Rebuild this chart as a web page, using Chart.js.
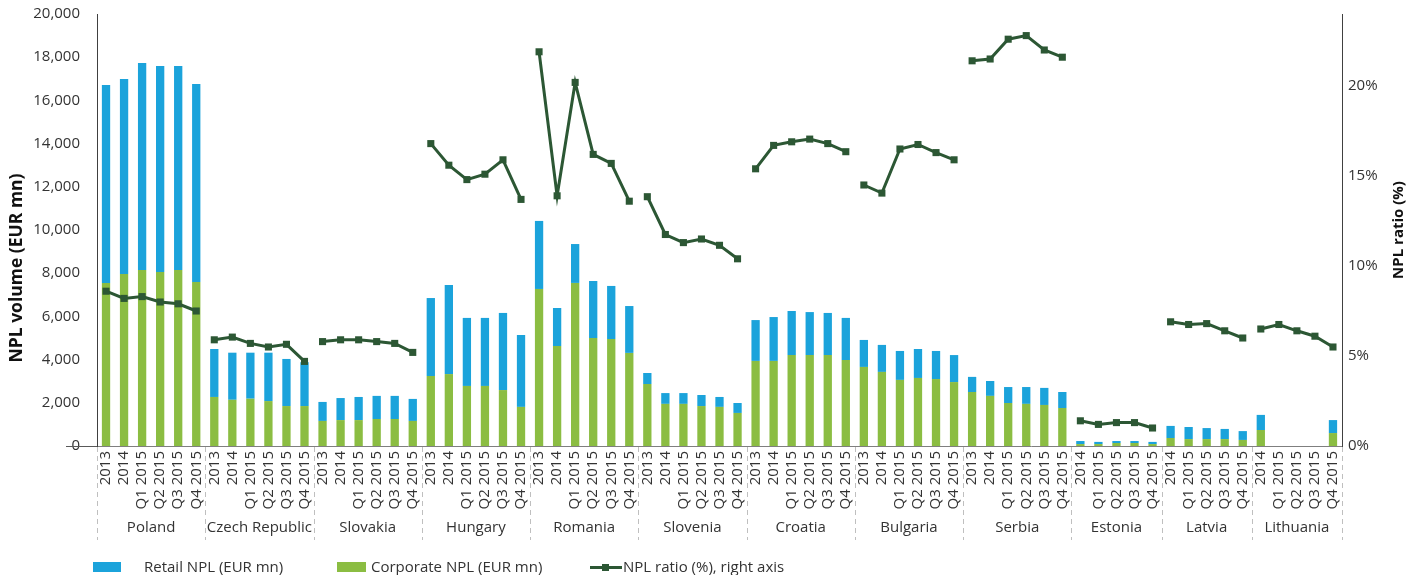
<!DOCTYPE html>
<html>
<head>
<meta charset="utf-8">
<script src="https://cdn.jsdelivr.net/npm/chart.js@4.4.1/dist/chart.umd.min.js"></script>
<style>
  html, body { margin: 0; padding: 0; background: #fff; }
  #wrap { position: relative; width: 1418px; height: 575px; font-family: "Open Sans", sans-serif; }
  canvas { position: absolute; left: 0; top: 0; }
  .lg { position: absolute; font-size: 15px; color: #333; line-height: 20px; top: 556px; white-space: nowrap; }
  .box { position: absolute; top: 562px; height: 10px; }
</style>
</head>
<body>
<div id="wrap">
  <canvas id="c" width="1418" height="575"></canvas>
  <div class="box" style="left:93px;width:28px;background:#1BA3DB"></div>
  <div class="lg" style="left:144px">Retail NPL (EUR mn)</div>
  <div class="box" style="left:337px;width:29px;background:#8BBD42"></div>
  <div class="lg" style="left:371px">Corporate NPL (EUR mn)</div>
  <div style="position:absolute;left:590px;top:566px;width:32px;height:3px;background:#2C5734"></div>
  <div style="position:absolute;left:602px;top:564px;width:7px;height:7px;background:#2C5734"></div>
  <div class="lg" style="left:623px">NPL ratio (%), right axis</div>
</div>
<script>
const countries = ["Poland","Czech Republic","Slovakia","Hungary","Romania","Slovenia","Croatia","Bulgaria","Serbia","Estonia","Latvia","Lithuania"];
const periods6 = ["2013","2014","Q1 2015","Q2 2015","Q3 2015","Q4 2015"];
const periods5 = ["2014","Q1 2015","Q2 2015","Q3 2015","Q4 2015"];
const countryPeriods = [periods6,periods6,periods6,periods6,periods6,periods6,periods6,periods6,periods6,periods5,periods5,periods5];

const corporateNPL = [
  7550, 7960, 8150, 8060, 8150, 7590,
  2270, 2140, 2190, 2080, 1850, 1850,
  1160, 1200, 1200, 1250, 1250, 1160,
  3240, 3330, 2780, 2780, 2590, 1810,
  7270, 4630, 7550, 5000, 4950, 4310,
  2870, 1950, 1950, 1850, 1810, 1530,
  3940, 3940, 4210, 4210, 4210, 3980,
  3660, 3430, 3060, 3150, 3100, 2960,
  2500, 2320, 1990, 1950, 1900, 1760,
  90, 90, 140, 140, 90,
  370, 320, 320, 320, 280,
  740, null, null, null, 600
];
const retailNPL = [
  9160, 9030, 9580, 9530, 9440, 9170,
  2220, 2180, 2130, 2240, 2180, 2030,
  880, 1020, 1070, 1070, 1070, 1020,
  3610, 4120, 3150, 3150, 3570, 3330,
  3150, 1760, 1800, 2640, 2460, 2170,
  510, 500, 500, 510, 460, 460,
  1890, 2030, 2040, 1990, 1950, 1950,
  1250, 1250, 1340, 1340, 1300, 1250,
  700, 690, 740, 780, 790, 740,
  140, 100, 90, 90, 100,
  560, 560, 510, 470, 410,
  700, null, null, null, 600
];
const nplRatio = [
  8.6, 8.2, 8.3, 8.0, 7.9, 7.5,
  5.9, 6.05, 5.7, 5.5, 5.65, 4.7,
  5.8, 5.9, 5.9, 5.8, 5.7, 5.2,
  16.8, 15.6, 14.8, 15.1, 15.9, 13.7,
  21.9, 13.9, 20.2, 16.2, 15.7, 13.6,
  13.85, 11.75, 11.3, 11.5, 11.15, 10.4,
  15.4, 16.7, 16.9, 17.05, 16.8, 16.35,
  14.5, 14.05, 16.5, 16.75, 16.3, 15.9,
  21.4, 21.5, 22.6, 22.8, 22.0, 21.6,
  1.4, 1.2, 1.3, 1.3, 1.0,
  6.9, 6.75, 6.8, 6.4, 6.0,
  6.5, 6.75, 6.4, 6.1, 5.5
];
const leftTicks = [0, 2000, 4000, 6000, 8000, 10000, 12000, 14000, 16000, 18000, 20000];
const rightTicks = [0, 5, 10, 15, 20];
const leftTitle = 'NPL volume (EUR mn)';
const rightTitle = 'NPL ratio (%)';

const labels = [];
const groupStart = [];
const groupEnd = new Set();
countryPeriods.forEach((ps) => {
  groupStart.push(labels.length);
  ps.forEach(p => labels.push(p));
  groupEnd.add(labels.length - 1);
});

const FONT = '"Open Sans", sans-serif';
const TXT = '#333333';
const LINE = '#2C5734';

const groupsPlugin = {
  id: 'groups',
  afterDraw(chart) {
    const ctx = chart.ctx;
    const xs = chart.scales.x;
    const area = chart.chartArea;
    const bounds = [xs.left];
    for (let g = 1; g < groupStart.length; g++) {
      const i = groupStart[g];
      bounds.push((xs.getPixelForValue(i - 1) + xs.getPixelForValue(i)) / 2);
    }
    bounds.push(xs.right);
    ctx.save();
    ctx.strokeStyle = '#BFBFBF';
    ctx.lineWidth = 1;
    ctx.setLineDash([5, 4]);
    bounds.forEach(b => {
      const x = Math.round(b) + 0.5;
      ctx.beginPath();
      ctx.moveTo(x, area.bottom + 1);
      ctx.lineTo(x, 540);
      ctx.stroke();
    });
    ctx.setLineDash([]);
    ctx.fillStyle = TXT;
    ctx.font = '15px ' + FONT;
    ctx.textAlign = 'center';
    ctx.textBaseline = 'middle';
    countries.forEach((c, g) => {
      ctx.fillText(c, (bounds[g] + bounds[g + 1]) / 2, 528);
    });
    // zero line extension on left axis
    ctx.strokeStyle = '#595959';
    ctx.beginPath();
    ctx.moveTo(66, Math.round(area.bottom) + 0.5);
    ctx.lineTo(area.left, Math.round(area.bottom) + 0.5);
    ctx.stroke();
    // axis titles, both reading bottom-to-top
    ctx.fillStyle = '#111';
    ctx.font = 'bold 17.5px ' + FONT;
    ctx.save();
    ctx.translate(17, 268);
    ctx.rotate(-Math.PI / 2);
    ctx.fillText(leftTitle, 0, 0);
    ctx.restore();
    ctx.font = 'bold 15px ' + FONT;
    ctx.save();
    ctx.translate(1399, 230);
    ctx.rotate(-Math.PI / 2);
    ctx.fillText(rightTitle, 0, 0);
    ctx.restore();
    ctx.restore();
  }
};

const noPad = s => { s.paddingTop = 0; s.paddingBottom = 0; };

new Chart(document.getElementById('c'), {
  type: 'bar',
  data: {
    labels: labels,
    datasets: [
      {
        type: 'line',
        label: 'NPL ratio (%), right axis',
        data: nplRatio,
        yAxisID: 'y1',
        borderColor: LINE,
        backgroundColor: LINE,
        borderWidth: 3,
        pointStyle: 'rect',
        pointRadius: 5,
        pointBackgroundColor: LINE,
        pointBorderColor: LINE,
        pointBorderWidth: 0,
        tension: 0,
        order: 0,
        segment: {
          borderColor: c => groupEnd.has(c.p0DataIndex) ? 'rgba(0,0,0,0)' : LINE
        }
      },
      {
        label: 'Corporate NPL (EUR mn)',
        data: corporateNPL,
        backgroundColor: '#8BBD42',
        yAxisID: 'y',
        stack: 's',
        order: 1,
        barPercentage: 0.46,
        categoryPercentage: 1
      },
      {
        label: 'Retail NPL (EUR mn)',
        data: retailNPL,
        backgroundColor: '#1BA3DB',
        yAxisID: 'y',
        stack: 's',
        order: 1,
        barPercentage: 0.46,
        categoryPercentage: 1
      }
    ]
  },
  options: {
    responsive: false,
    animation: false,
    layout: { padding: { top: 14, left: 0, right: 0, bottom: 0 } },
    plugins: { legend: { display: false }, tooltip: { enabled: false } },
    scales: {
      x: {
        stacked: true,
        grid: { display: false, drawTicks: false },
        border: { color: '#7F7F7F', width: 1 },
        ticks: {
          autoSkip: false, maxRotation: 90, minRotation: 90, padding: 5,
          color: TXT, font: { family: FONT, size: 15 }
        },
        afterFit: s => { s.height = 575 - 446; s.paddingLeft = 0; s.paddingRight = 0; }
      },
      y: {
        stacked: true,
        position: 'left',
        min: 0, max: 20000,
        afterBuildTicks: s => { s.ticks = leftTicks.map(v => ({ value: v })); },
        grid: { display: false, drawTicks: false },
        border: { color: '#404040', width: 1 },
        ticks: {
          padding: 17, color: TXT, font: { family: FONT, size: 15 },
          callback: v => v.toLocaleString('en-US')
        },
        title: { display: false },
        afterFit: s => { s.width = 97; noPad(s); }
      },
      y1: {
        position: 'right',
        min: 0, max: 24,
        afterBuildTicks: s => { s.ticks = rightTicks.map(v => ({ value: v })); },
        grid: { display: false, drawTicks: false },
        border: { color: '#404040', width: 1 },
        ticks: {
          padding: 6, color: TXT, font: { family: FONT, size: 15 },
          callback: v => v + '%'
        },
        title: { display: false },
        afterFit: s => { s.width = 1418 - 1342; noPad(s); }
      }
    }
  },
  plugins: [groupsPlugin]
});
</script>
</body>
</html>
